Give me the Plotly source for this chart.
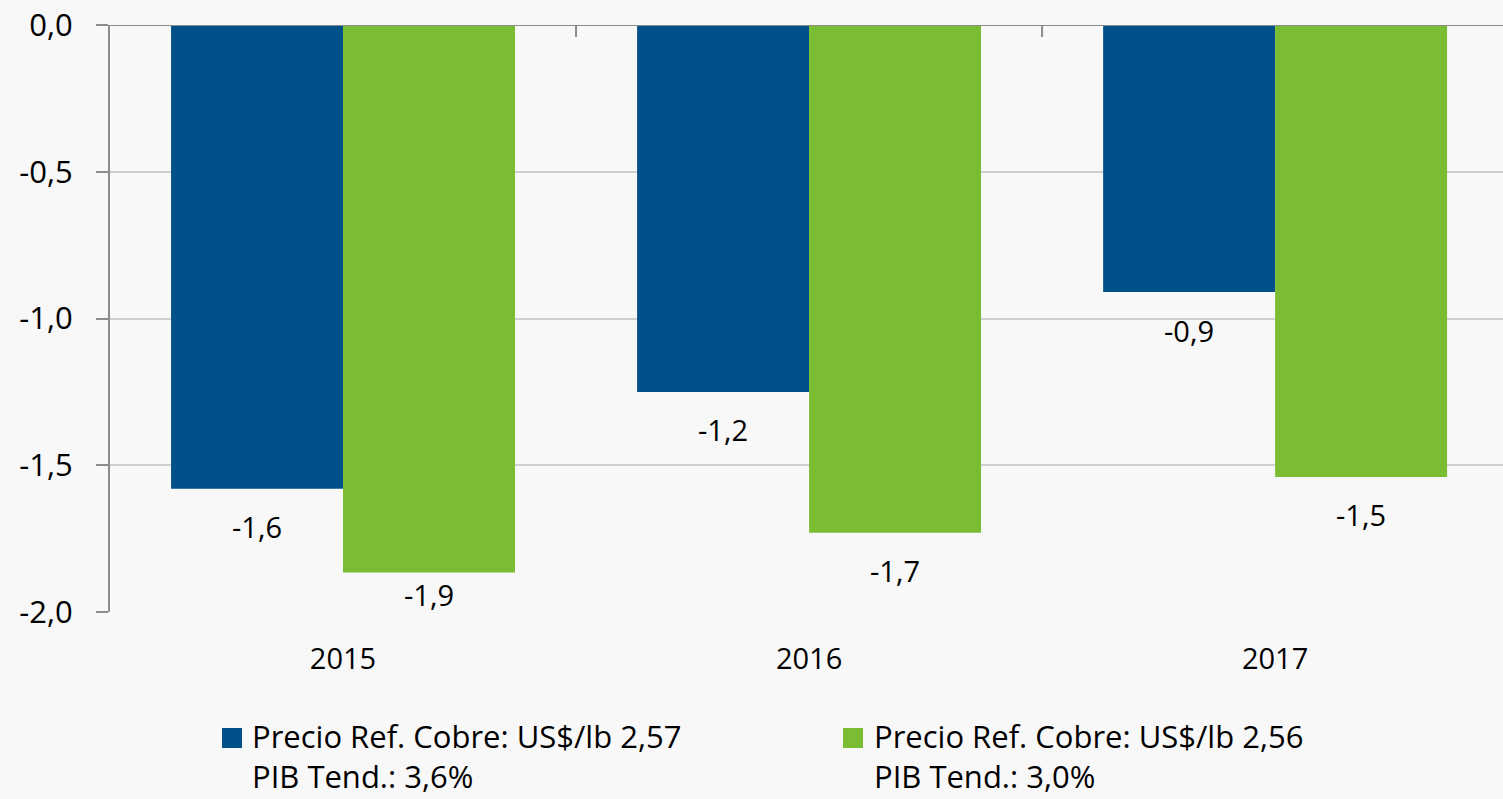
import plotly.graph_objects as go

# ---- data ----
years = ["2015", "2016", "2017"]
series_names = [
    "Precio Ref. Cobre: US$/lb 2,57<br>PIB Tend.: 3,6%",
    "Precio Ref. Cobre: US$/lb 2,56<br>PIB Tend.: 3,0%",
]
serie_1 = [-1.58, -1.25, -0.91]
serie_2 = [-1.865, -1.73, -1.54]
y_ticks = [0.0, -0.5, -1.0, -1.5, -2.0]

# ---- style ----
colors = ["#00508A", "#7BBD32"]
label_shift_1 = [-38, -38, -38]
label_shift_2 = [-22, -38, -38]
FONT = "Open Sans"
W, H = 1503, 799
ML, MT, MB, MR = 110, 25, 187, 0
pw, ph = W - ML - MR, H - MT - MB

def fmt(v):
    return f"{v:.1f}".replace(".", ",")

fig = go.Figure()
for vals, col, name in zip([serie_1, serie_2], colors, series_names):
    fig.add_trace(go.Bar(x=years, y=vals, marker=dict(color=col, line=dict(width=0)),
                         name=name, showlegend=False, hoverinfo="x+y"))

annotations = []
bar_px = pw / 2.989 * (1 - 0.262) / 2
for vals, shifts, sgn in [(serie_1, label_shift_1, -1), (serie_2, label_shift_2, 1)]:
    for i, (v, s) in enumerate(zip(vals, shifts)):
        annotations.append(dict(x=i, y=v, xref="x", yref="y", text=fmt(v), showarrow=False,
                                xshift=sgn * bar_px / 2, yshift=s,
                                font=dict(family=FONT, size=29, color="#000")))

def px_x(p):
    return (p - ML) / pw

def px_y(p):
    return (MT + ph - p) / ph

shapes = [
    dict(type="line", xref="paper", yref="y", x0=0, x1=1, y0=0, y1=0,
         line=dict(color="#8c8c8c", width=2), layer="above"),
]
for b in [0.5, 1.5]:
    shapes.append(dict(type="line", xref="x", yref="y", x0=b, x1=b, ysizemode="pixel",
                       yanchor=0, y0=0, y1=-12, line=dict(color="#8c8c8c", width=2)))

leg_sq_x = [222, 843]
leg_txt_x = [250, 872]
for i in range(2):
    shapes.append(dict(type="rect", xref="paper", yref="paper",
                       x0=px_x(leg_sq_x[i]), x1=px_x(leg_sq_x[i] + 20),
                       y0=px_y(728), y1=px_y(748), fillcolor=colors[i], line=dict(width=0)))
    annotations.append(dict(x=px_x(leg_txt_x[i]), y=px_y(756), xref="paper", yref="paper",
                            xanchor="left", yanchor="middle", align="left", showarrow=False,
                            text=series_names[i],
                            font=dict(family=FONT, size=31, color="#000")))

fig.update_layout(
    width=W, height=H,
    margin=dict(l=ML, r=MR, t=MT, b=MB),
    paper_bgcolor="#f8f8f8", plot_bgcolor="#f8f8f8",
    barmode="group", bargap=0.262, bargroupgap=0,
    separators=",.",
    font=dict(family=FONT, size=29, color="#000"),
    xaxis=dict(type="category", range=[-0.5, 2.489], showline=False, showgrid=False,
               ticks="", ticklabelstandoff=27, tickfont=dict(size=29)),
    yaxis=dict(range=[-2.0, 0.0], tickvals=y_ticks, ticktext=[fmt(v) for v in y_ticks],
               showline=True, linecolor="#8c8c8c", linewidth=2,
               ticks="outside", ticklen=12, tickcolor="#8c8c8c", tickwidth=2,
               showgrid=True, gridcolor="#cfcfcf", gridwidth=1.5, zeroline=False,
               ticklabelstandoff=17, tickfont=dict(size=31)),
    annotations=annotations, shapes=shapes,
)
fig.write_html("out.html", config={"displayModeBar": False},
               post_script="document.body.style.margin='0';document.body.style.padding='0';")
